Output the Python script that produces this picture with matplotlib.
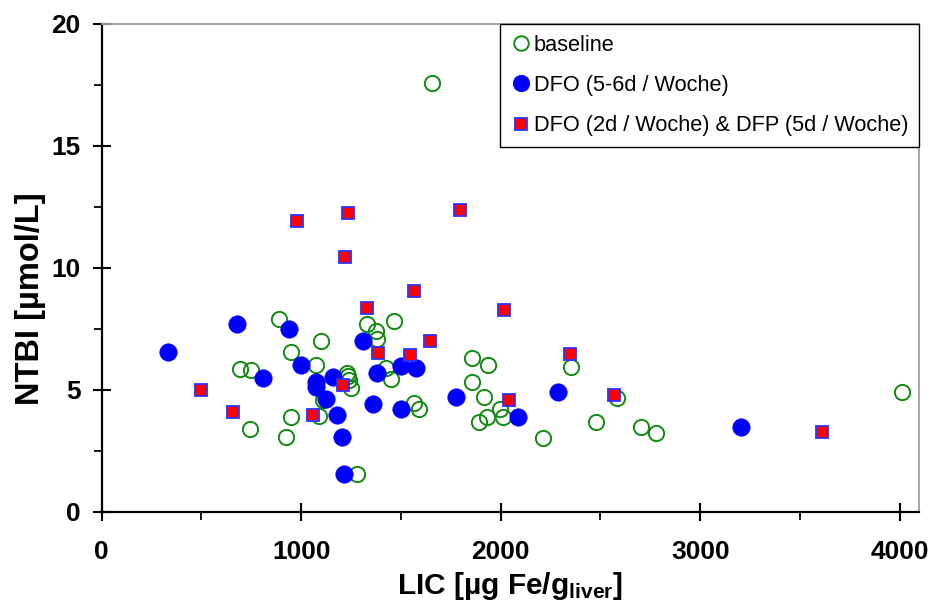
import matplotlib
matplotlib.use('Agg')
import matplotlib.pyplot as plt
from matplotlib.ticker import MultipleLocator

plt.rcParams['font.family'] = ['Liberation Sans', 'DejaVu Sans']
plt.rcParams['mathtext.fontset'] = 'custom'
plt.rcParams['mathtext.rm'] = 'Liberation Sans:bold'
plt.rcParams['mathtext.default'] = 'rm'

# baseline (open green circles)
base_lic = [1654, 889, 693, 747, 949, 745, 950, 924, 1097, 1074,
            1111, 1091, 1228, 1233, 1241, 1250, 1281, 1331, 1374, 1381,
            1465, 1423, 1452, 1563, 1591, 1856, 1938, 1856, 1914, 1893,
            1930, 1995, 2013, 2354, 2214, 2479, 2581, 2705, 2780, 4013]
base_ntbi = [17.6, 7.9, 5.84, 5.8, 6.56, 3.38, 3.88, 3.08, 7.0, 6.0,
             4.58, 3.93, 5.70, 5.57, 5.40, 5.09, 1.53, 7.71, 7.42, 7.08,
             7.84, 5.88, 5.46, 4.44, 4.22, 6.29, 6.02, 5.32, 4.70, 3.67,
             3.87, 4.20, 3.88, 5.95, 3.04, 3.68, 4.68, 3.47, 3.24, 4.90]

# DFO 5-6d / Woche (filled blue circles)
dfo_lic = [331, 677, 939, 808, 997, 1073, 1073, 1160, 1122, 1180,
           1206, 1215, 1310, 1378, 1358, 1499, 1574, 1499, 1776, 2086,
           2286, 3206]
dfo_ntbi = [6.56, 7.71, 7.49, 5.48, 6.03, 5.33, 5.13, 5.52, 4.62, 3.97,
            3.08, 1.53, 7.0, 5.69, 4.42, 5.96, 5.88, 4.20, 4.71, 3.87,
            4.90, 3.46]

# DFO 2d + DFP 5d / Woche (red squares)
combi_lic = [498, 657, 1059, 1207, 1329, 1387, 1545, 1567, 1646, 2018,
             2043, 2347, 2566, 3612, 977, 1236, 1796, 1221]
combi_ntbi = [5.01, 4.08, 3.96, 5.19, 8.36, 6.50, 6.41, 9.07, 7.00, 8.27,
              4.59, 6.47, 4.77, 3.26, 11.94, 12.26, 12.39, 10.43]

fig = plt.figure(figsize=(9.3, 6.03), dpi=100)
ax = fig.add_axes([0.1094, 0.1514, 0.8784, 0.8088])

ax.plot(base_lic, base_ntbi, 'o', ls='none', ms=11, mfc='none', mec='#108a10',
        mew=1.4, label='baseline')
ax.plot(dfo_lic, dfo_ntbi, 'o', ls='none', ms=12.5, mfc='#0000ff', mec='#0000ff',
        mew=0.5, label='DFO (5-6d / Woche)')
ax.plot(combi_lic, combi_ntbi, 's', ls='none', ms=9.3, mfc='#ff0000', mec='#3030ff',
        mew=1.3, label='DFO (2d / Woche) & DFP (5d / Woche)')

ax.set_xlim(0, 4095)
ax.set_ylim(0, 20)
ax.xaxis.set_major_locator(MultipleLocator(1000))
ax.xaxis.set_minor_locator(MultipleLocator(500))
ax.yaxis.set_major_locator(MultipleLocator(5))
ax.yaxis.set_minor_locator(MultipleLocator(2.5))

for side in ['left', 'bottom']:
    ax.spines[side].set_color('black')
    ax.spines[side].set_linewidth(1.6)
for side in ['top', 'right']:
    ax.spines[side].set_color('#a0a0a0')
    ax.spines[side].set_linewidth(1.3)

ax.tick_params(which='major', direction='inout', length=12.5, width=1.5,
               top=False, right=False, labelsize=19)
ax.tick_params(which='minor', direction='out', length=5.5, width=1.3,
               top=False, right=False)
ax.tick_params(axis='x', which='major', pad=14)
ax.tick_params(axis='y', which='major', pad=9)
for lab in ax.get_xticklabels() + ax.get_yticklabels():
    lab.set_fontweight('bold')

ax.set_xlabel(r'LIC [µg Fe/g$_{\mathrm{liver}}$]', fontsize=21.5, fontweight='bold')
ax.set_ylabel('NTBI [µmol/L]', fontsize=23.5, fontweight='bold')
ax.xaxis.set_label_coords(0.5, -0.12)
ax.yaxis.set_label_coords(-0.068, 0.436)

leg = ax.legend(loc='upper left', bbox_to_anchor=(0.4875, 1.0), borderaxespad=0,
                fontsize=15.7, frameon=True, fancybox=False, handlelength=0.9,
                handletextpad=0.15, labelspacing=0.88, borderpad=0.5,
                markerscale=0.95)
leg.get_frame().set_edgecolor('black')
leg.get_frame().set_linewidth(1.0)
leg.get_frame().set_alpha(1)

fig.savefig('out.png', dpi=100)
